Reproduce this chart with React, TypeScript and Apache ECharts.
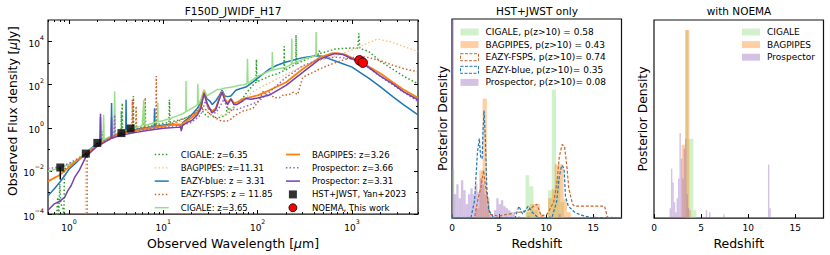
import React, { useEffect, useRef } from 'react';
import * as echarts from 'echarts';

const FONT = 'DejaVu Sans';

// ---------------- SED panel data: [wavelength um, flux uJy] ----------------
const cigaleZ635: number[][] = [[0.6,0.00003],[0.74,0.00006],[0.76,0.0006],[0.78,0.0001],[0.8,0.0025],[0.82,0.0003],[0.86,0.0002],[0.885,0.0001],[0.895,0.012],[1.0,0.018],[1.2,0.03],[1.5,0.065],[1.8,0.12],[2.0,0.17],[2.25,0.25],[2.27,0.7],[2.3,0.26],[2.8,0.4],[3.3,0.55],[3.57,0.6],[3.59,6],[3.62,0.62],[3.67,14],[3.7,0.63],[4.3,0.8],[4.8,0.9],[4.82,30],[4.86,0.9],[5.5,1.0],[7,1.2],[9,1.5],[11.5,1.8],[11.6,20],[11.8,1.8],[14,2.2],[18,3],[22,5],[24,8],[25,22],[26,6],[28,4],[30,3.2],[32,7],[34,3],[40,3],[46,4],[48,10],[50,5],[55,8],[60,14],[70,25],[80,55],[90,100],[96,130],[97,1500],[98,135],[120,200],[133,250],[165,330],[190,450],[191,6000],[193,460],[230,700],[254,900],[255,20000],[257,920],[300,1250],[380,2000],[420,2500],[450,2700],[451,4300],[453,2750],[550,3500],[660,4500],[800,4800],[1000,5000],[1150,5000],[1180,24000],[1210,4800],[1500,3500],[2000,1200],[2700,530],[3500,250],[5000,110]];
const bagpipesZ1131: number[][] = [[1.497,0.00001],[1.5,0.06],[1.7,0.1],[2.0,0.17],[2.5,0.3],[3,0.45],[4,0.65],[5,0.8],[5.95,0.9],[6.0,3],[6.06,0.9],[6.16,6],[6.22,0.95],[7,1.05],[8.0,1.1],[8.08,5],[8.16,1.15],[10,1.3],[13,1.6],[16,2],[20,3],[23,5],[26,7],[30,6],[35,5],[40,4],[45,4],[50,6],[58.7,12],[70,20],[89,47],[110,80],[133,120],[200,310],[300,700],[450,1300],[650,2100],[900,3500],[1190,5500],[1500,9000],[1860,13000],[2500,10000],[3500,6000],[5000,3500]];
const eazyBlue: number[][] = [[0.6,0.0007],[0.7,0.0015],[0.8,0.003],[0.9,0.006],[1.0,0.012],[1.2,0.025],[1.4,0.048],[1.6,0.085],[1.8,0.13],[2.0,0.19],[2.14,0.22],[2.16,3],[2.18,0.23],[2.5,0.31],[2.8,0.4],[2.83,14],[2.86,0.41],[3.5,0.55],[4.0,0.65],[4.03,20],[4.06,0.66],[5,0.82],[6,0.95],[7,1.05],[8.0,1.15],[8.08,8],[8.16,1.15],[10,1.35],[12,1.45],[14,1.4],[15.3,1.35],[15.5,0.9],[16,1.7],[18,2.6],[20,4],[23,8],[25,16],[27,55],[29,22],[31,18],[33,12],[36,18],[39,30],[42,55],[45,30],[48,28],[52,30],[58.7,55],[65,65],[75,78],[90,140],[110,280],[133,530],[160,800],[200,1130],[300,1800],[417,2200],[480,2100],[530,1800],[700,1150],[1000,650],[1200,380],[1500,200],[2000,80],[2700,28],[3500,12],[5000,4]];
const eazyFsps: number[][] = [[1.558,0.00001],[1.56,0.07],[1.8,0.12],[2.0,0.17],[2.5,0.3],[3,0.45],[4,0.65],[4.65,0.75],[4.7,20],[4.75,0.75],[5.1,0.85],[5.15,10],[5.2,0.85],[6.25,1.0],[6.3,8],[6.36,1],[6.43,25],[6.5,1.0],[7,1.05],[8.35,1.2],[8.43,250],[8.5,1.2],[10,1.3],[13,1.7],[16,2.5],[20,4],[24,6],[26,8],[28,7],[30,5],[35,3],[40,2.2],[45,2],[50,2.2],[58.7,4],[70,6],[89,8],[100,15],[115,50],[125,30],[133,39],[150,25],[170,25],[190,35],[210,33],[240,45],[265,35],[300,220],[400,400],[450,530],[660,1050],[900,1600],[1190,2100],[1500,1800],[2000,1300],[2700,800],[3500,560],[5000,400]];
const cigaleZ365: number[][] = [[0.6,0.0095],[0.8,0.014],[1.0,0.02],[1.2,0.03],[1.5,0.065],[1.8,0.12],[2.0,0.18],[2.3,0.27],[2.33,4],[2.36,0.28],[2.6,0.36],[3.0,0.48],[3.05,50],[3.1,0.5],[3.5,0.62],[4.0,0.75],[4.5,0.88],[5,1.0],[6.0,1.25],[6.2,20],[6.4,1.3],[7.5,1.6],[8.7,1.9],[8.75,15],[8.8,1.9],[10,2.2],[12,2.8],[14,3.6],[16,4.5],[17.3,5.5],[17.4,150],[17.5,5.6],[19,7],[21,9],[23,12],[23.2,110],[23.5,12],[25,20],[27,60],[29,30],[32,40],[35,50],[37,60],[40,60],[45,70],[50,75],[56,80],[60,90],[70,100],[77,110],[78,1600],[79,115],[100,250],[120,350],[133,440],[142,470],[143,3300],[145,480],[170,570],[200,650],[228,900],[230,14000],[232,920],[300,1500],[380,2000],[414,2150],[416,28000],[419,2200]];
const bagpipesZ326: number[][] = [[0.6,0.0033],[0.7,0.0048],[0.8,0.0065],[1.0,0.015],[1.2,0.03],[1.5,0.058],[1.8,0.11],[2.0,0.16],[2.5,0.28],[3.0,0.42],[3.5,0.55],[4.0,0.62],[5,0.75],[7,0.95],[10,1.2],[13,1.4],[15,1.45],[15.3,1.4],[15.5,0.9],[16,1.6],[18,2.2],[20,3],[23,5],[25,10],[27,45],[28.5,18],[30,8],[33,6],[36,8],[39,22],[42,50],[45,22],[48,14],[52,22],[56,14],[60,15],[70,22],[80,25],[100,32],[133,55],[200,130],[300,530],[450,1800],[600,2800],[700,2900],[850,2500],[1000,1700],[1190,1250],[2000,330],[2700,130],[3500,60],[5000,25]];
const prospZ366: number[][] = [[0.6,0.013],[0.7,0.014],[0.8,0.016],[1.0,0.022],[1.2,0.035],[1.5,0.062],[1.8,0.11],[2.0,0.16],[2.5,0.28],[3.0,0.42],[3.05,4],[3.1,0.43],[4,0.58],[5,0.7],[7,0.88],[10,1.05],[15,1.25],[20,1.8],[25,4],[28,18],[30,8],[33,5],[36,5],[40,10],[44,22],[47,9],[52,7],[60,7],[70,9],[80,11],[100,16],[133,45],[200,220],[300,750],[450,1500],[650,1900],[800,1800],[1000,1500],[1300,950],[2000,240],[2700,100],[3500,45],[5000,17]];
const prospZ331: number[][] = [[0.6,0.00015],[0.7,0.0003],[0.8,0.0004],[0.9,0.0006],[0.97,0.0012],[1.05,0.002],[1.15,0.005],[1.29,0.011],[1.51,0.045],[1.8,0.095],[2.0,0.14],[2.14,0.16],[2.16,4.5],[2.18,0.17],[2.5,0.24],[2.8,0.32],[2.83,3],[2.86,0.33],[3.5,0.45],[5,0.6],[7,0.78],[10,0.95],[14,1.05],[15.3,1.1],[15.5,0.7],[16,1.3],[18,1.8],[20,2.2],[23,4],[25,8],[27,40],[29,14],[33,5],[36,7],[39,20],[42,45],[45,18],[48,12],[52,22],[56,12],[60,12],[70,18],[75,23],[85,21],[100,24],[133,33],[200,93],[300,375],[450,1500],[650,2800],[800,2500],[1000,1600],[1300,1000],[2000,250],[2700,110],[3500,48],[5000,20]];

const hstLam = [0.81, 1.51, 2.0, 3.6, 4.5];
const hstFlux = [0.0145, 0.064, 0.2, 0.57, 0.93];
const hstLow = [0.004, 0.055, 0.18, 0.53, 0.87];
const noemaLam = [1200, 1300];
const noemaFlux = [1350, 1050];

const xMajor = [1, 10, 100, 1000];
const xMinor = [0.6, 0.7, 0.8, 0.9, 2, 3, 4, 5, 6, 7, 8, 9, 20, 30, 40, 50, 60, 70, 80, 90, 200, 300, 400, 500, 600, 700, 800, 900, 2000, 3000, 4000, 5000];
const yMajor = [1e-4, 1e-2, 1, 1e2, 1e4];
const yMinor = [1e-3, 1e-1, 10, 1e3];

// ---------------- Redshift posteriors: [zLow, zHigh, density] ----------------
const cigaleHistA: number[][] = [[0,0.25,0.245],[7.8,8.2,0.215],[8.2,8.65,0.16],[8.65,9.1,0.04],[10.2,10.6,0.14],[10.6,11.05,0.645],[11.05,11.5,0.2],[11.5,11.9,0.08]];
const bagpipesHistA: number[][] = [[2.5,2.9,0.05],[2.9,3.25,0.24],[3.25,3.7,0.6],[3.7,4.0,0.1],[7.9,8.3,0.03],[8.3,8.8,0.07],[8.8,9.35,0.07],[9.35,9.7,0.02],[10.2,10.6,0.1],[10.6,10.9,0.145],[10.9,11.4,0.27],[11.4,11.85,0.27],[11.85,12.2,0.095],[12.2,12.6,0.03]];
const prospHistA: number[][] = [[0,0.2,1.0],[0.2,0.45,0.12],[0.45,0.7,0.17],[0.7,0.95,0.1],[0.95,1.2,0.19],[1.2,1.45,0.14],[1.45,1.7,0.07],[1.7,1.95,0.12],[1.95,2.2,0.15],[2.2,2.45,0.12],[2.45,2.7,0.17],[2.7,2.95,0.13],[2.95,3.2,0.2],[3.2,3.45,0.17],[3.45,3.7,0.12],[3.7,3.95,0.06],[3.95,4.2,0.02],[4.45,4.7,0.04],[4.7,4.95,0.1],[4.95,5.2,0.07],[5.2,5.45,0.09],[5.45,5.7,0.06],[5.7,5.95,0.05],[5.95,6.2,0.04],[6.2,6.45,0.03],[6.45,6.7,0.02],[7.0,7.25,0.01],[8.0,8.25,0.01],[10.3,10.55,0.01],[11.3,11.55,0.02],[15,15.25,0.01]];
const eazyFspsPz: number[][] = [[0,0],[2.4,0.003],[2.75,0.095],[3.1,0.16],[3.35,0.24],[3.5,0.18],[3.75,0.1],[4.0,0.02],[4.9,0.01],[6.0,0.02],[7.2,0.03],[8.1,0.04],[9.0,0.07],[9.5,0.01],[10.1,0.02],[10.8,0.08],[11.15,0.18],[11.4,0.31],[11.7,0.37],[11.95,0.36],[12.2,0.26],[12.4,0.15],[12.8,0.07],[13.0,0.06],[16.2,0.06],[16.5,0.005],[18,0]];
const eazyBluePz: number[][] = [[0,0],[2.0,0.0],[2.4,0.09],[2.7,0.33],[2.9,0.4],[3.05,0.3],[3.2,0.3],[3.3,0.45],[3.4,0.54],[3.55,0.39],[3.7,0.15],[3.9,0.04],[4.4,0.003],[6.7,0],[7.1,0.06],[7.5,0.02],[8.1,0.06],[8.5,0.03],[9.2,0.0],[10.6,0.0],[11.1,0.08],[11.4,0.21],[11.65,0.265],[11.9,0.25],[12.05,0.11],[12.35,0.06],[13.0,0.03],[13.7,0.015],[14.8,0.003],[18,0]];

const cigaleHistB: number[][] = [[3.4,3.64,0.95],[3.64,4.18,0.4],[4.18,4.5,0.04]];
const bagpipesHistB: number[][] = [[2.93,3.29,0.37],[3.29,3.75,0.95],[3.75,3.95,0.04]];
const prospHistB: number[][] = [[1.65,1.8,0.05],[1.8,1.95,0.25],[1.95,2.1,0.18],[2.1,2.25,0.08],[2.25,2.4,0.03],[2.4,2.55,0.1],[2.55,2.7,0.2],[2.7,2.85,0.43],[2.85,3.0,0.3],[3.0,3.15,0.2],[3.15,3.3,0.35],[3.3,3.45,0.4],[3.45,3.6,0.12],[3.6,3.75,0.05],[5.5,5.65,0.04],[5.85,6.0,0.03],[7.35,7.5,0.02],[12.1,12.25,0.27],[12.25,12.4,0.05]];

// ---------------- styles ----------------
const C_CIG1 = '#2ca02c';
const C_BAG1 = '#ffbb78';
const C_BLUE = '#1f77b4';
const C_BROWN = '#c8642a';
const C_LGREEN = '#98df8a';
const C_ORANGE = '#ff7f0e';
const C_PURD = '#9467bd';
const C_PURS = '#7442ab';
const H_GREEN = 'rgba(152,223,138,0.45)';
const H_ORANGE = 'rgba(255,127,14,0.38)';
const H_PURPLE = 'rgba(148,103,189,0.4)';
const DOT = [1.5, 2.2];
const DASH = [3, 1.8];

const txt = (size: number) => ({ fontSize: size, fontFamily: FONT, color: '#000' });

const logLabel = (v: number) => {
  const e = Math.round(Math.log10(v));
  return `{b|10}{s|${e < 0 ? '\u2212' + -e : e}}`;
};
const logRich = {
  b: { fontSize: 9, fontFamily: FONT, color: '#000', lineHeight: 14, verticalAlign: 'bottom' },
  s: { fontSize: 6.3, fontFamily: FONT, color: '#000', lineHeight: 14, verticalAlign: 'top' },
};

const lineSeries = (name: string, data: number[][], color: string, width: number, dash: any) => ({
  type: 'line', name, data, xAxisIndex: 0, yAxisIndex: 0, symbol: 'none', showSymbol: false,
  silent: true, clip: true,
  lineStyle: { color, width, type: dash, cap: 'butt' }, itemStyle: { color },
});

const histSeries = (name: string, bins: number[][], color: string, axis: number) => ({
  type: 'custom', name, xAxisIndex: axis, yAxisIndex: axis, data: bins, silent: true, clip: true,
  itemStyle: { color },
  encode: { x: [0, 1], y: 2 },
  renderItem: (_p: any, api: any) => {
    const a = api.coord([api.value(0), api.value(2)]);
    const b = api.coord([api.value(1), 0]);
    return { type: 'rect', shape: { x: a[0], y: a[1], width: b[0] - a[0], height: b[1] - a[1] }, style: { fill: color } };
  },
});

const pzSeries = (name: string, data: number[][], color: string, axis: number) => ({
  type: 'line', name, data, xAxisIndex: axis, yAxisIndex: axis, symbol: 'none', showSymbol: false,
  silent: true, lineStyle: { color, width: 1.2, type: DASH }, itemStyle: { color },
});

const lineItem = (name: string, color: string, width: number, dash: any) => ({
  name, icon: 'line', itemStyle: { color, borderColor: color, borderWidth: width, borderType: dash },
});
const patchItem = (name: string) => ({ name, icon: 'rect' });
const dashPatch = (name: string, color: string) => ({
  name, icon: 'rect', itemStyle: { color: 'rgba(255,255,255,0)', borderColor: color, borderWidth: 1, borderType: [3, 1.5] },
});

const logTickAxis = (kind: 'x' | 'y', pos: string, vals: number[], len: number, labels: boolean, extra: any = {}) => ({
  type: 'log', gridIndex: 0, position: pos, logBase: 10,
  min: kind === 'x' ? 0.6 : 1e-4, max: kind === 'x' ? 5000 : 1e5,
  axisLine: { show: false }, splitLine: { show: false },
  axisTick: { show: true, inside: true, length: len, customValues: vals, lineStyle: { color: '#000', width: 1 } },
  axisLabel: labels
    ? { show: true, customValues: vals, formatter: logLabel, rich: logRich, margin: 4 }
    : { show: false },
  ...extra,
});

const histX = (grid: number) => ({
  type: 'value', gridIndex: grid, min: 0, max: 18, interval: 5, position: 'bottom',
  axisLine: { show: false }, splitLine: { show: false },
  axisTick: { show: true, inside: true, length: 4, lineStyle: { color: '#000' } },
  axisLabel: { ...txt(9), margin: 5, showMaxLabel: false },
  name: 'Redshift', nameLocation: 'middle', nameGap: 16, nameTextStyle: txt(12.5),
});
const histY = (grid: number, gap: number) => ({
  type: 'value', gridIndex: grid, min: 0, max: 1,
  axisLine: { show: false }, splitLine: { show: false }, axisTick: { show: false }, axisLabel: { show: false },
  name: 'Posterior Density', nameLocation: 'middle', nameGap: gap, nameTextStyle: txt(12.3),
});

const gridBox = { show: true, borderColor: '#111', borderWidth: 1.2, backgroundColor: 'rgba(0,0,0,0)' };

const sedLegend = (left: number, data: any[]) => ({
  left, top: 150, orient: 'vertical', padding: 0, itemWidth: 14, itemHeight: 8, itemGap: 4.3,
  selectedMode: false, textStyle: { ...txt(8.5), padding: [0, 0, 0, 7] }, data,
});
const pzLegend = (left: number, data: any[]) => ({
  left, top: 27.5, orient: 'vertical', padding: 0, itemWidth: 18, itemHeight: 7, itemGap: 3.6,
  selectedMode: false, textStyle: { ...txt(9), padding: [0, 0, 0, 2] }, data,
});

const option: any = {
  animation: false,
  backgroundColor: '#fff',
  textStyle: { fontFamily: FONT },
  grid: [
    { left: 48, top: 20, width: 370, height: 198, ...gridBox },
    { left: 452, top: 19, width: 169.5, height: 200, ...gridBox },
    { left: 654, top: 20, width: 169.5, height: 199, ...gridBox },
  ],
  graphic: [
    { type: 'text', x: 233, y: 11, style: { text: 'F150D_JWIDF_H17', align: 'center', verticalAlign: 'middle', fontSize: 10.5, fontFamily: FONT, fill: '#000' } },
    { type: 'text', x: 537, y: 11, style: { text: 'HST+JWST only', align: 'center', verticalAlign: 'middle', fontSize: 10.5, fontFamily: FONT, fill: '#000' } },
    { type: 'text', x: 739, y: 11, style: { text: 'with NOEMA', align: 'center', verticalAlign: 'middle', fontSize: 10.5, fontFamily: FONT, fill: '#000' } },
  ],
  xAxis: [
    logTickAxis('x', 'bottom', xMajor, 4, true, {
      name: 'Observed Wavelength [{i|\u03bc}m]', nameLocation: 'middle', nameGap: 16,
      nameTextStyle: { ...txt(12.5), rich: { i: { ...txt(12.5), fontStyle: 'italic' } } },
    }),
    logTickAxis('x', 'top', xMajor, 4, false),
    logTickAxis('x', 'bottom', xMinor, 2, false),
    logTickAxis('x', 'top', xMinor, 2, false),
    histX(1),
    histX(2),
  ],
  yAxis: [
    logTickAxis('y', 'left', yMajor, 4, true, {
      name: 'Observed Flux density [{i|\u03bc}Jy]', nameLocation: 'middle', nameGap: 28,
      nameTextStyle: { ...txt(12.3), padding: [0, 0, 0, 12], rich: { i: { ...txt(12.3), fontStyle: 'italic' } } },
    }),
    logTickAxis('y', 'right', yMajor, 4, false),
    logTickAxis('y', 'left', yMinor, 2, false),
    logTickAxis('y', 'right', yMinor, 2, false),
    histY(1, 3),
    histY(2, 5),
  ],
  legend: [
    sedLegend(154, [
      lineItem('CIGALE: z=6.35', C_CIG1, 1.5, DOT),
      lineItem('BAGPIPES: z=11.31', C_BAG1, 1.3, DOT),
      lineItem('EAZY-blue: z = 3.31', C_BLUE, 1.5, 'solid'),
      lineItem('EAZY-FSPS: z = 11.85', C_BROWN, 1.5, DOT),
      lineItem('CIGALE: z=3.65', C_LGREEN, 1.5, 'solid'),
    ]),
    sedLegend(285, [
      lineItem('BAGPIPES: z=3.26', C_ORANGE, 1.8, 'solid'),
      lineItem('Prospector: z=3.66', C_PURD, 1.5, DOT),
      lineItem('Prospector: z=3.31', C_PURS, 1.5, 'solid'),
      { name: 'HST+JWST, Yan+2023', icon: 'path://M0,0H10V10H0Z', itemStyle: { color: '#000' } },
      { name: 'NOEMA, This work', icon: 'circle', itemStyle: { color: '#ff0000', borderColor: '#000', borderWidth: 0.8 } },
    ]),
    pzLegend(460, [
      patchItem('CIGALE, p(z>10) = 0.58'),
      patchItem('BAGPIPES, p(z>10) = 0.43'),
      dashPatch('EAZY-FSPS, p(z>10)= 0.74', C_BROWN),
      dashPatch('EAZY-blue, p(z>10)= 0.35', C_BLUE),
      patchItem('Prospector, p(z>10)= 0.08'),
    ]),
    pzLegend(742, [patchItem('CIGALE'), patchItem('BAGPIPES'), patchItem('Prospector')]),
  ],
  series: [
    lineSeries('CIGALE: z=6.35', cigaleZ635, C_CIG1, 1.5, DOT),
    lineSeries('BAGPIPES: z=11.31', bagpipesZ1131, C_BAG1, 1.3, DOT),
    lineSeries('EAZY-blue: z = 3.31', eazyBlue, C_BLUE, 1.5, 'solid'),
    lineSeries('EAZY-FSPS: z = 11.85', eazyFsps, C_BROWN, 1.5, DOT),
    lineSeries('CIGALE: z=3.65', cigaleZ365, C_LGREEN, 1.5, 'solid'),
    lineSeries('BAGPIPES: z=3.26', bagpipesZ326, C_ORANGE, 1.8, 'solid'),
    lineSeries('Prospector: z=3.66', prospZ366, C_PURD, 1.5, DOT),
    lineSeries('Prospector: z=3.31', prospZ331, C_PURS, 1.5, 'solid'),
    {
      type: 'custom', xAxisIndex: 0, yAxisIndex: 0, silent: true, z: 9,
      data: hstLam.map((l, i) => [l, hstFlux[i], hstLow[i]]),
      renderItem: (_p: any, api: any) => {
        const a = api.coord([api.value(0), api.value(1)]);
        const b = api.coord([api.value(0), api.value(2)]);
        return { type: 'line', shape: { x1: a[0], y1: a[1], x2: b[0], y2: b[1] }, style: { stroke: '#000', lineWidth: 1.5 } };
      },
    },
    {
      type: 'scatter', name: 'HST+JWST, Yan+2023', xAxisIndex: 0, yAxisIndex: 0, symbol: 'rect', symbolSize: 8,
      itemStyle: { color: '#000' }, z: 10, silent: true,
      data: hstLam.map((l, i) => [l, hstFlux[i]]),
    },
    {
      type: 'scatter', name: 'NOEMA, This work', xAxisIndex: 0, yAxisIndex: 0, symbol: 'circle', symbolSize: 9.5,
      itemStyle: { color: '#ff0000', borderColor: '#000', borderWidth: 0.8, opacity: 1 }, z: 11, silent: true,
      data: noemaLam.map((l, i) => [l, noemaFlux[i]]),
    },
    histSeries('CIGALE, p(z>10) = 0.58', cigaleHistA, H_GREEN, 4),
    histSeries('BAGPIPES, p(z>10) = 0.43', bagpipesHistA, H_ORANGE, 4),
    pzSeries('EAZY-FSPS, p(z>10)= 0.74', eazyFspsPz, C_BROWN, 4),
    pzSeries('EAZY-blue, p(z>10)= 0.35', eazyBluePz, C_BLUE, 4),
    histSeries('Prospector, p(z>10)= 0.08', prospHistA, H_PURPLE, 4),
    histSeries('CIGALE', cigaleHistB, H_GREEN, 5),
    histSeries('BAGPIPES', bagpipesHistB, H_ORANGE, 5),
    histSeries('Prospector', prospHistB, H_PURPLE, 5),
  ],
};

export default function App() {
  const ref = useRef<HTMLDivElement>(null);
  useEffect(() => {
    if (!ref.current) return;
    const chart = echarts.init(ref.current, null, { renderer: 'svg' });
    chart.setOption(option);
    return () => chart.dispose();
  }, []);
  return <div ref={ref} style={{ position: 'absolute', left: 0, top: 0, width: 830, height: 255 }} />;
}
